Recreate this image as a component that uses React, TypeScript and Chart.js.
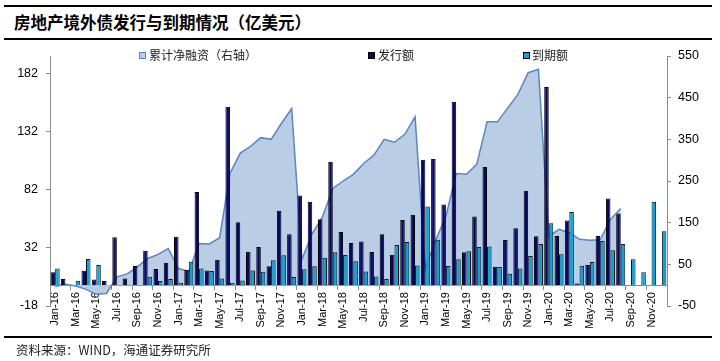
import React, { useEffect, useRef } from 'react';
import { Chart, registerables } from 'chart.js';

Chart.register(...registerables);

// ---------- data ----------
const MONTHS = ['Jan', 'Feb', 'Mar', 'Apr', 'May', 'Jun', 'Jul', 'Aug', 'Sep', 'Oct', 'Nov', 'Dec'];
const YEARS = ['16', '17', '18', '19', '20'];
const CATEGORIES = YEARS.flatMap((y) => MONTHS.map((m) => `${m}-${y}`));

// 发行额 (left axis, 亿美元)
const ISSUANCE = [
  11.2, 5.2, null, 12.4, 4.9, 3.5, 41.2, 5.8, 16.4, 29.7, 13.8, 19.3,
  41.8, 13, 80.2, 12.7, 21.9, 153.7, 54.2, 28.8, 32.9, 16.2, 64, 43.8,
  77.3, 71.8, 56.8, 106.4, 45.8, 36.3, 37.5, 28.5, 43.8, 26.2, 56.2, 60.6,
  108.1, 108.7, 69.5, 158, 28.3, 59.1, 101.8, 15.9, 38.9, 49, 81.3, 42.1,
  170.7, 42.4, 55.6, 1.4, 17.3, 42.4, 74.7, 61.7, null, null, null, null,
];

// 到期额 (left axis, 亿美元)
const MATURITY = [
  14.4, null, 3.7, 22.5, 17.3, null, null, null, null, 7.2, 3.5, 5.2,
  2, 20.2, 14.4, 12.1, 5.8, 2, 4, 12.7, 11.5, 21.4, 25.7, 6.9,
  13.6, 16.2, 23.6, 28.3, 26, 20.5, 11.8, 7.5, 5.2, 34.6, 37.2, 17,
  67.7, 39.2, 16.4, 22.2, 29.2, 32.9, 33.2, 15.6, 9.8, 14.4, 25.1, 35.5,
  53.4, 26.6, 63.1, 16.7, 19.9, 38.1, 30, 35.5, 22.2, 11, 71.8, 46.5,
];

// 累计净融资 (right axis, 亿美元)
const NET_FINANCING_CUM = [
  -3, 2, -2, -10, -22, -20, 20, 27, 44, 64, 74, 88,
  40, 33, 100, 99, 114, 268, 317, 333, 354, 350, 388, 424,
  62, 124, 164, 232, 250, 266, 292, 312, 350, 343, 362, 404,
  40, 108, 165, 268, 266, 290, 392, 392, 425, 458, 510, 518,
  117, 134, 126, 110, 108, 109, 158, 184, null, null, null, null,
];

const LEFT_TICKS = [-18, 32, 82, 132, 182];
const RIGHT_TICKS = [-50, 50, 150, 250, 350, 450, 550];

const TITLE = '房地产境外债发行与到期情况（亿美元）';
const SOURCE = '资料来源：WIND，海通证券研究所';
const LEGEND_LABELS = ['累计净融资（右轴）', '发行额', '到期额'];

// ---------- styles ----------
const NAVY = '#08086A';
const CYAN = '#0AA3E0';
const AREA_FILL = '#B9CDE5';
const AREA_LINE = '#5A86C3';
const AXIS = '#8C8C8C';
const LATIN = "'Liberation Sans', Arial, sans-serif";
const CJK = "'Noto Sans CJK SC', sans-serif";

export default function App() {
  const ref = useRef<HTMLCanvasElement | null>(null);

  useEffect(() => {
    const canvas = ref.current;
    if (!canvas) return;
    const chart = new Chart(canvas, {
      type: 'bar',
      data: {
        labels: CATEGORIES,
        datasets: [
          {
            type: 'bar',
            label: LEGEND_LABELS[1],
            data: ISSUANCE,
            backgroundColor: NAVY,
            borderColor: '#000000',
            borderWidth: 1,
            yAxisID: 'y',
            order: 1,
            barPercentage: 1,
            categoryPercentage: 0.88,
          },
          {
            type: 'bar',
            label: LEGEND_LABELS[2],
            data: MATURITY,
            backgroundColor: CYAN,
            borderColor: '#111111',
            borderWidth: 1,
            yAxisID: 'y',
            order: 1,
            barPercentage: 1,
            categoryPercentage: 0.88,
          },
          {
            type: 'line',
            label: LEGEND_LABELS[0],
            data: NET_FINANCING_CUM,
            yAxisID: 'y1',
            borderColor: AREA_LINE,
            borderWidth: 1.5,
            backgroundColor: AREA_FILL,
            fill: 'origin',
            pointRadius: 0,
            tension: 0,
            order: 2,
          },
        ],
      } as any,
      options: {
        responsive: false,
        animation: false,
        devicePixelRatio: 1,
        layout: { padding: { top: 56, bottom: 55, left: 0, right: 0 } },
        plugins: {
          legend: { display: false },
          tooltip: { enabled: false },
          title: { display: false },
        },
        scales: {
          x: {
            type: 'category',
            position: { y: 0 } as any,
            offset: true,
            grid: {
              offset: true,
              drawOnChartArea: false,
              drawTicks: true,
              tickLength: 4,
              color: (c: any) => (c.index % 2 === 0 ? AXIS : 'rgba(0,0,0,0)'),
            },
            border: { display: true, color: AXIS, width: 1 },
            ticks: {
              autoSkip: false,
              minRotation: 90,
              maxRotation: 90,
              padding: 3,
              color: '#000',
              font: { family: LATIN, size: 11 },
              callback: (_v: any, i: number) => (i % 2 === 0 ? CATEGORIES[i] : ''),
            },
          },
          y: {
            type: 'linear',
            position: 'left',
            min: -18,
            max: 197.5,
            afterBuildTicks: (s: any) => {
              s.ticks = LEFT_TICKS.map((v) => ({ value: v }));
            },
            afterFit: (s: any) => {
              s.width = 50;
            },
            grid: { drawOnChartArea: false, drawTicks: true, tickLength: 4, color: AXIS },
            border: { display: true, color: AXIS, width: 1 },
            ticks: {
              padding: 8,
              color: '#000',
              font: { family: LATIN, size: 12.5 },
            },
          },
          y1: {
            type: 'linear',
            position: 'right',
            min: -50,
            max: 550,
            afterBuildTicks: (s: any) => {
              s.ticks = RIGHT_TICKS.map((v) => ({ value: v }));
            },
            afterFit: (s: any) => {
              s.width = 53;
            },
            grid: { drawOnChartArea: false, drawTicks: true, tickLength: 4, color: AXIS },
            border: { display: true, color: AXIS, width: 1 },
            ticks: {
              padding: 7,
              color: '#000',
              font: { family: LATIN, size: 12.5 },
            },
          },
        },
      } as any,
    });
    return () => chart.destroy();
  }, []);

  const legendItems = [
    { x: 139, textX: 149, fill: AREA_FILL, border: AREA_LINE, label: LEGEND_LABELS[0] },
    { x: 368, textX: 378, fill: NAVY, border: '#000', label: LEGEND_LABELS[1] },
    { x: 523, textX: 532, fill: CYAN, border: '#000', label: LEGEND_LABELS[2] },
  ];

  return (
    <div
      style={{
        position: 'fixed',
        left: 0,
        top: 0,
        width: 720,
        height: 361,
        background: '#fff',
        overflow: 'hidden',
      }}
    >
      <div style={{ position: 'absolute', left: 4, top: 5, width: 708, height: 2, background: '#000' }} />
      <div
        style={{
          position: 'absolute',
          left: 14,
          top: 11.5,
          fontFamily: CJK,
          fontWeight: 700,
          fontSize: 16.5,
          lineHeight: '20px',
          color: '#000',
          whiteSpace: 'nowrap',
        }}
      >
        {TITLE}
      </div>
      <div style={{ position: 'absolute', left: 4, top: 38, width: 708, height: 2, background: '#000' }} />
      <canvas
        ref={ref}
        width={720}
        height={361}
        style={{ position: 'absolute', left: 0, top: 0, width: 720, height: 361, display: 'block' }}
      />
      {legendItems.map((it) => (
        <React.Fragment key={it.label}>
          <div
            style={{
              position: 'absolute',
              left: it.x,
              top: 52,
              width: 5,
              height: 5,
              background: it.fill,
              border: `1px solid ${it.border}`,
            }}
          />
          <div
            style={{
              position: 'absolute',
              left: it.textX,
              top: 47.8,
              fontFamily: CJK,
              fontSize: 12,
              lineHeight: '14px',
              color: '#222',
              whiteSpace: 'nowrap',
            }}
          >
            {it.label}
          </div>
        </React.Fragment>
      ))}
      <div style={{ position: 'absolute', left: 4, top: 336, width: 708, height: 1.5, background: '#000' }} />
      <div
        style={{
          position: 'absolute',
          left: 16,
          top: 342.5,
          fontFamily: CJK,
          fontSize: 12.5,
          lineHeight: '14px',
          color: '#222',
          whiteSpace: 'nowrap',
        }}
      >
        {SOURCE}
      </div>
    </div>
  );
}
